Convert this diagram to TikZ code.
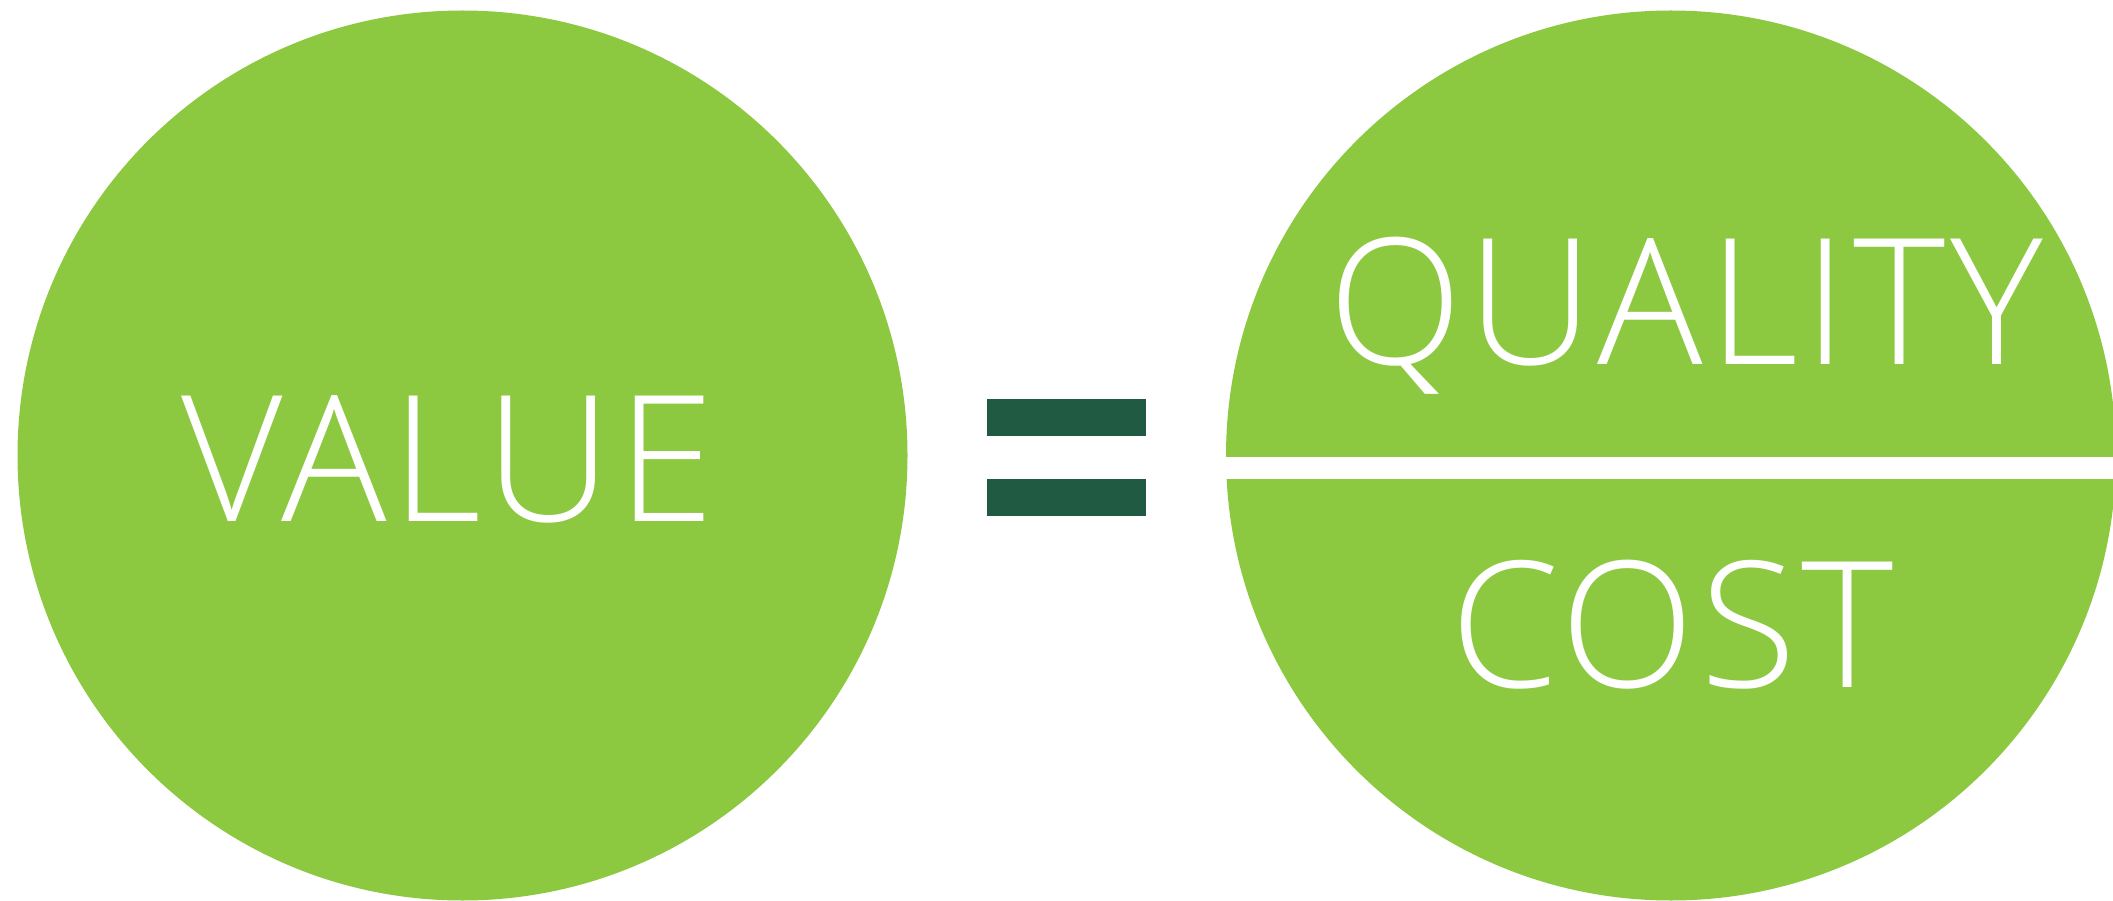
\documentclass[tikz,border=0pt]{standalone}
\usepackage{fontspec}
\newfontfamily\lightsans[LetterSpace=3]{Open Sans Light}
\usepackage{tikz}
\usetikzlibrary{positioning}
\definecolor{mygreen}{RGB}{141,200,65}
\definecolor{mydark}{RGB}{33,90,66}
\tikzset{
  bubble/.style={circle, fill=mygreen, inner sep=0pt, minimum size=8.9cm},
  eqbar/.style={rectangle, fill=mydark, inner sep=0pt,
    minimum width=1.59cm, minimum height=0.364cm},
  word/.style={text=white, font=\lightsans\fontsize{50}{60}\selectfont,
    inner sep=0pt, anchor=base}
}

\begin{document}
\begin{tikzpicture}
  \useasboundingbox (0,0) rectangle (21.13,9);
  \clip (0,0) rectangle (21.13,9);

  % Left circle
  \node[bubble] (valuecircle) at (4.625,4.445) {};
  \node[word] (value) at (4.48,3.79) {VALUE};

  % Equals sign
  \node[eqbar] (eqtop) at (10.665,4.825) {};
  \node[eqbar] (eqbot) at (10.665,4.025) {};

  % Right circle, split by a white band
  \node[bubble] (ratiocircle) at (16.71,4.445) {};
  \fill[white] (12.1,4.21) rectangle (21.2,4.433);
  \node[word] (quality) at (16.86,5.35) {QUALITY};
  \node[word] (cost) at (16.72,2.13) {COST};
\end{tikzpicture}
\end{document}
